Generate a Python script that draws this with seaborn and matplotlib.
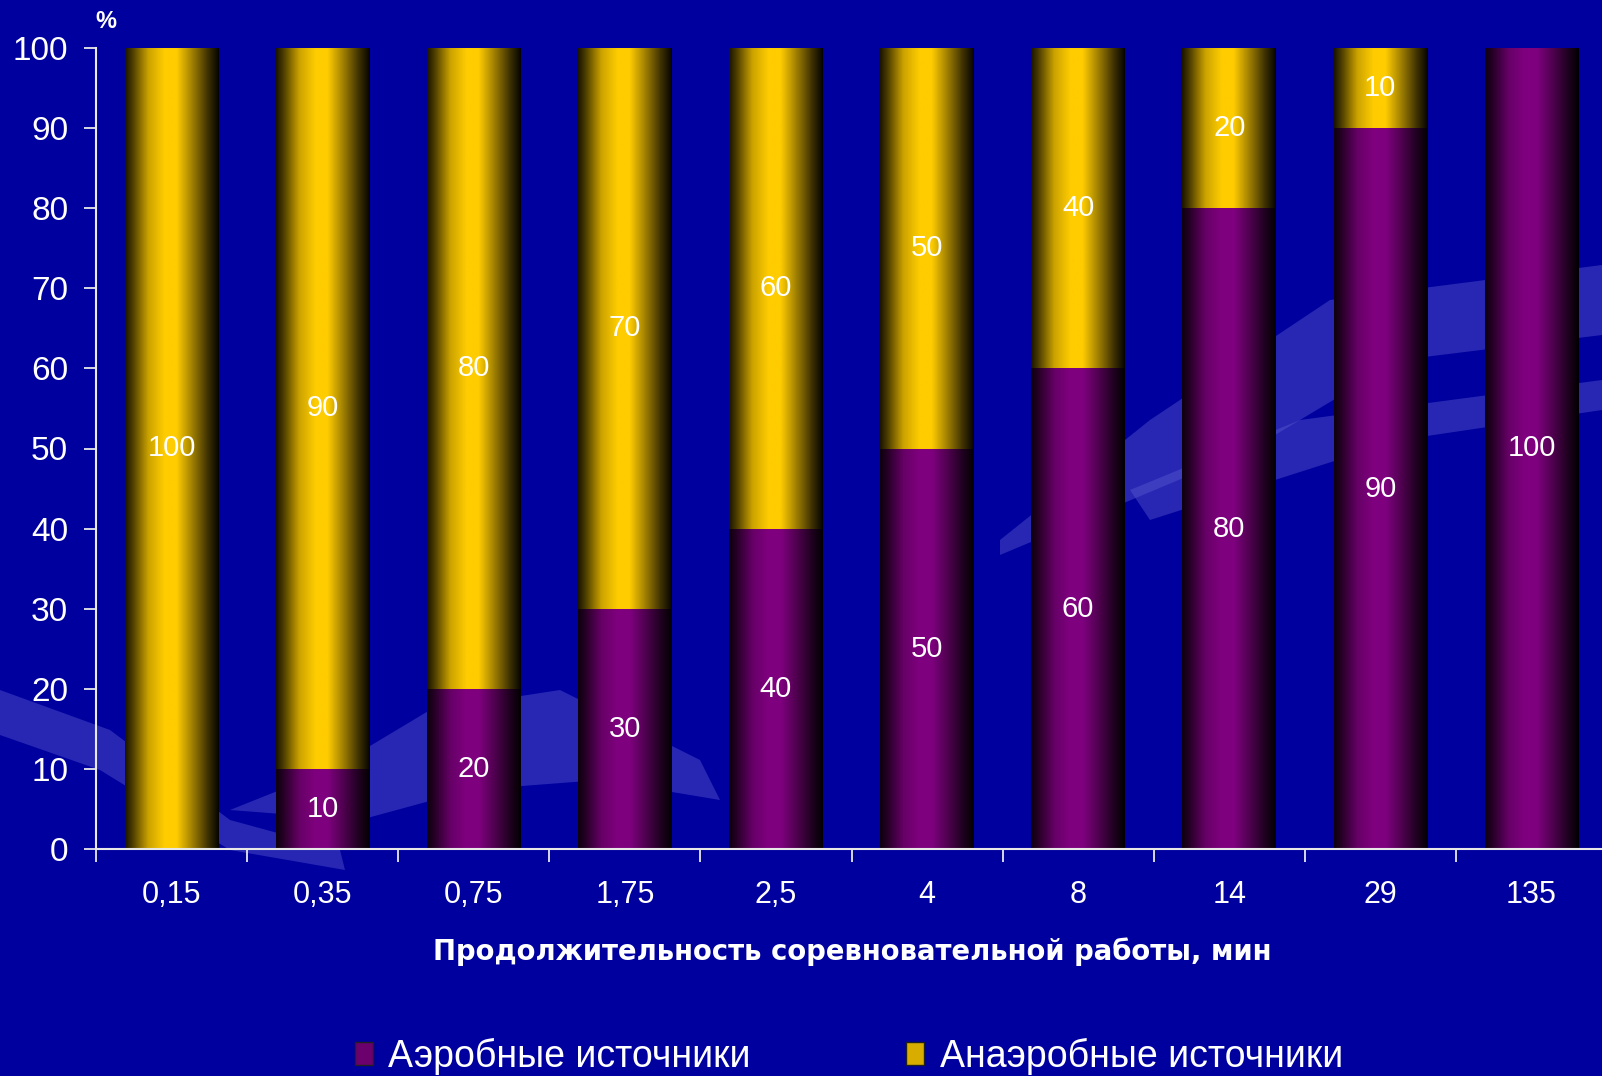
import numpy as np
import pandas as pd
import matplotlib
matplotlib.use("Agg")
import matplotlib.pyplot as plt
import seaborn as sns
from matplotlib.patches import Polygon, Rectangle

# ---------------- data ----------------
durations = ["0,15", "0,35", "0,75", "1,75", "2,5", "4", "8", "14", "29", "135"]
aerobic = [0, 10, 20, 30, 40, 50, 60, 80, 90, 100]
anaerobic = [100, 90, 80, 70, 60, 50, 40, 20, 10, 0]
series_names = ["Аэробные источники", "Анаэробные источники"]
x_title = "Продолжительность соревновательной работы, мин"
y_unit = "%"
y_ticks = [0, 10, 20, 30, 40, 50, 60, 70, 80, 90, 100]

# ---------------- style ----------------
sns.set_theme(style="white")
plt.rcParams["font.family"] = ["Liberation Sans", "DejaVu Sans"]

BG = "#00009E"
YELLOW = np.array([1.0, 0.80, 0.0])
PURPLE = np.array([0.50, 0.0, 0.50])
W, H = 1602, 1076

fig = plt.figure(figsize=(W / 100, H / 100), dpi=100, facecolor=BG)


def fx(px):
    return px / W


def fy(py):
    return 1 - py / H


# decorative background swooshes (figure coords), behind the axes
swoosh = "#5858D0"
shapes = [
    [(0, 690), (110, 730), (230, 820), (340, 850), (345, 870), (230, 850), (100, 770), (0, 735)],
    [(230, 810), (330, 770), (430, 710), (560, 690), (700, 760), (720, 800), (600, 780), (470, 790), (360, 820)],
    [(1000, 540), (1150, 420), (1330, 300), (1602, 265), (1602, 335), (1400, 360), (1250, 450), (1000, 555)],
    [(1130, 490), (1300, 420), (1602, 380), (1602, 410), (1400, 440), (1150, 520)],
]
for s in shapes:
    fig.patches.append(Polygon([(fx(a), fy(b)) for a, b in s], closed=True,
                               transform=fig.transFigure, facecolor=swoosh,
                               edgecolor="none", alpha=0.45, zorder=-1))

ax = fig.add_axes([fx(96), fy(849), (1607 - 96) / W, (849 - 48) / H])
ax.patch.set_alpha(0)

df = pd.DataFrame({
    "duration": durations,
    "aerobic": aerobic,
    "total": [a + b for a, b in zip(aerobic, anaerobic)],
})

sns.barplot(data=df, x="duration", y="total", color=tuple(YELLOW), saturation=1,
            width=0.62, errorbar=None, ax=ax, edgecolor="none", linewidth=0)
sns.barplot(data=df, x="duration", y="aerobic", color=tuple(PURPLE), saturation=1,
            width=0.62, errorbar=None, ax=ax, edgecolor="none", linewidth=0)

# cylinder shading
prof_t = [0.0, 0.08, 0.25, 0.42, 0.55, 0.72, 0.88, 1.0]
prof_v = [0.10, 0.30, 0.80, 1.0, 1.0, 0.62, 0.25, 0.02]
tt = np.linspace(0, 1, 256)
shade = np.interp(tt, prof_t, prof_v)
n = len(durations)
for i, p in enumerate(list(ax.patches)):
    h = p.get_height()
    if h <= 0:
        continue
    base = YELLOW if i < n else PURPLE
    img = np.tile(shade[None, :, None] * base[None, None, :], (2, 1, 1))
    x0 = p.get_x()
    w = p.get_width()
    y0 = p.get_y()
    im = ax.imshow(img, extent=[x0, x0 + w, y0, y0 + h], aspect="auto",
                   interpolation="bilinear", zorder=3 if i < n else 4)
    im.set_clip_path(p)

ax.set_xlim(-0.5, n - 0.5)
ax.set_ylim(0, 100)

# value labels
for i, (a, b) in enumerate(zip(aerobic, anaerobic)):
    if a > 0:
        ax.text(i, a / 2, str(a), ha="center", va="center", color="white",
                fontsize=21, zorder=6)
    if b > 0:
        ax.text(i, a + b / 2, str(b), ha="center", va="center", color="white",
                fontsize=21, zorder=6)

# axes styling
for side in ["top", "right"]:
    ax.spines[side].set_visible(False)
for side in ["left", "bottom"]:
    ax.spines[side].set_color("#E8E8E8")
    ax.spines[side].set_linewidth(1.5)
    ax.spines[side].set_zorder(7)

ax.set_yticks(y_ticks)
ax.set_yticklabels([str(v) for v in y_ticks])
ax.tick_params(axis="y", colors="#E8E8E8", labelcolor="white", length=9,
               width=1.3, direction="out", labelsize=24, pad=11, left=True)
ax.set_xticks(range(n))
ax.set_xticklabels(durations)
ax.tick_params(axis="x", which="major", length=0, labelcolor="white",
               labelsize=22, pad=22)
ax.set_xticks([k - 0.5 for k in range(n)], minor=True)
ax.tick_params(axis="x", which="minor", length=9, width=1.3, color="#E8E8E8",
               direction="out", bottom=True)
ax.set_xlabel("")
ax.set_ylabel("")

fig.text(fx(106), fy(22), y_unit, color="white", fontsize=17, ha="center",
         va="center", fontweight="bold")
fig.text(fx(852), fy(952), x_title, color="white", fontsize=19.8,
         fontweight="bold", ha="center", va="center",
         family=["DejaVu Sans"])

# legend
leg_items = [(355, 388, PURPLE), (906, 940, YELLOW)]
for (mx, tx, col), name in zip(leg_items, series_names):
    fig.patches.append(Rectangle((fx(mx), fy(1065)), 18 / W, 23 / H,
                                 transform=fig.transFigure, facecolor=tuple(col * 0.85),
                                 edgecolor="#202020", linewidth=1.0, zorder=5))
    fig.text(fx(tx), fy(1056), name, color="white", fontsize=27,
             ha="left", va="center")

fig.savefig("out.png", dpi=100, facecolor=BG)
